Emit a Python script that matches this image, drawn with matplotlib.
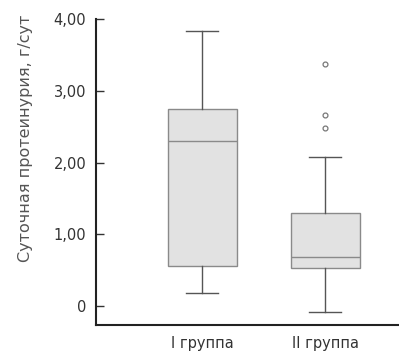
import matplotlib
matplotlib.use("Agg")
import matplotlib.pyplot as plt

# box statistics (г/сут)
groups = ["I группа", "II группа"]
whislo = [0.18, -0.08]
q1 = [0.56, 0.53]
med = [2.30, 0.68]
q3 = [2.75, 1.30]
whishi = [3.83, 2.08]
fliers = [[], [3.37, 2.66, 2.48]]

yticks = [0, 1, 2, 3, 4]
yticklabels = ["0", "1,00", "2,00", "3,00", "4,00"]
ylabel = "Суточная протеинурия, г/сут"

TXT = "#333333"
BOX_EC = "#8a8a8a"
BOX_FC = "#e2e2e2"

plt.rcParams["font.family"] = ["DejaVu Sans"]
plt.rcParams["font.size"] = 10.5

fig = plt.figure(figsize=(3.99, 3.56), dpi=100)
ax = fig.add_axes([96 / 399, 1 - 325 / 356, 303 / 399, 306 / 356])

stats = []
for i in range(len(groups)):
    stats.append(dict(label=groups[i], whislo=whislo[i], q1=q1[i], med=med[i],
                      q3=q3[i], whishi=whishi[i], fliers=fliers[i]))

ax.bxp(stats, positions=[1, 2], widths=0.56, patch_artist=True,
       boxprops=dict(facecolor=BOX_FC, edgecolor=BOX_EC, lw=1.0),
       medianprops=dict(color=BOX_EC, lw=1.0),
       whiskerprops=dict(color="#555555", lw=1.0),
       capprops=dict(color="#555555", lw=1.0),
       capwidths=0.26,
       flierprops=dict(marker="o", markersize=3.5, markerfacecolor="none",
                       markeredgecolor="#777777", markeredgewidth=0.9))

ax.set_xlim(0.138, 2.60)
ax.set_ylim(-0.26, 4.0)

ax.set_yticks(yticks)
ax.set_yticklabels(yticklabels, color=TXT)
ax.tick_params(axis="y", direction="in", length=6, width=1.0, color="#333333", pad=7)
ax.tick_params(axis="x", length=0, pad=8, colors=TXT)

for s in ["top", "right"]:
    ax.spines[s].set_visible(False)
for s in ["left", "bottom"]:
    ax.spines[s].set_linewidth(1.5)
    ax.spines[s].set_color("#222222")

ax.set_ylabel(ylabel, color="#555555", fontsize=11.5)
ax.yaxis.set_label_coords(-0.208, 0.611)

fig.savefig("out.png", dpi=100)
